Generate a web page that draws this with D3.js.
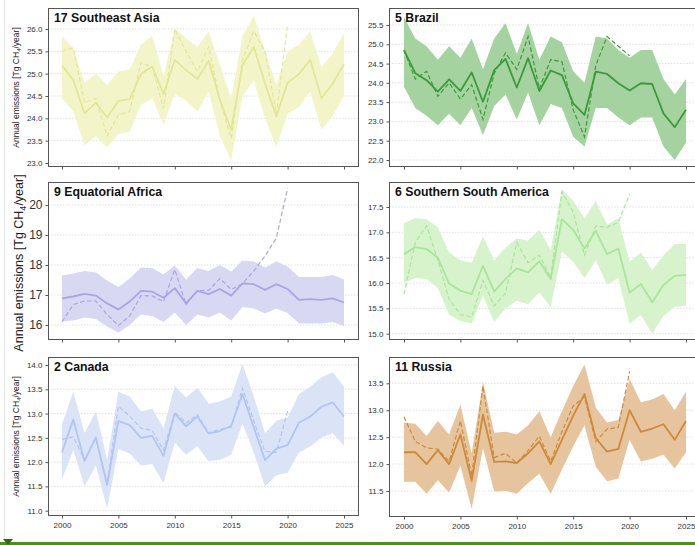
<!DOCTYPE html>
<html><head><meta charset="utf-8">
<script src="https://cdn.jsdelivr.net/npm/d3@7"></script>
<style>
html,body{margin:0;padding:0;background:#fff;}
svg{display:block;font-family:"Liberation Sans",Arial,sans-serif;}
</style></head><body>
<svg id="c" width="695" height="545"></svg>
<script>
const years = d3.range(2000, 2026);
const priorYears = d3.range(2000, 2021);
const xTicks = [2000, 2005, 2010, 2015, 2020, 2025];

// 17 Southeast Asia
const seaMean = [25.18,24.86,24.11,24.35,24.02,24.39,24.43,24.99,25.16,24.54,25.31,25.08,24.88,25.29,24.41,23.74,25.19,25.60,24.78,24.04,24.80,24.99,25.31,24.45,24.78,25.22];
const seaLow  = [24.45,24.15,23.40,23.60,23.35,23.65,23.70,24.30,24.45,23.85,24.55,24.40,24.15,24.60,23.60,23.05,24.50,24.85,24.00,23.35,24.10,24.25,24.60,23.75,24.05,24.50];
const seaHigh = [25.85,25.55,24.80,25.00,24.75,25.05,25.10,25.65,25.85,24.95,26.00,25.80,25.60,25.95,25.20,24.45,25.85,26.30,25.50,24.75,25.50,25.65,25.95,25.15,25.45,25.90];
const seaPrior= [25.50,25.58,24.35,24.45,23.60,24.08,24.15,25.25,25.15,24.22,26.00,25.50,25.05,25.60,24.40,23.55,25.30,25.95,25.50,24.10,26.10];
const seaTicks = [23.0,23.5,24.0,24.5,25.0,25.5,26.0];

// 5 Brazil
const braMean = [24.85,24.25,24.07,23.77,24.09,23.79,24.27,23.51,24.33,24.62,23.88,24.64,23.79,24.32,24.20,23.47,23.17,24.29,24.23,23.99,23.80,23.99,23.97,23.21,22.85,23.30];
const braLow  = [23.90,23.35,23.15,22.90,23.20,22.90,23.35,22.65,23.40,23.70,23.05,23.75,22.90,23.45,23.35,22.60,22.35,23.35,23.35,23.10,22.90,23.10,23.10,22.35,22.00,22.45];
const braHigh = [25.70,25.15,24.95,24.60,24.95,24.65,25.15,24.35,25.15,25.55,24.75,25.55,24.60,25.20,25.05,24.30,24.00,25.20,25.15,24.85,24.65,24.85,24.85,24.10,23.70,24.10];
const braPrior= [24.85,24.10,24.30,23.65,24.00,23.58,23.95,23.05,24.25,24.78,24.35,25.20,23.85,24.60,24.55,23.30,22.60,24.45,25.20,24.95,24.70];
const braTicks = [22.0,22.5,23.0,23.5,24.0,24.5,25.0,25.5];

// 9 Equatorial Africa
const eqaMean = [16.89,16.95,17.04,16.98,16.72,16.52,16.78,17.14,17.11,16.91,17.23,16.72,17.14,17.03,17.20,16.98,17.39,17.36,17.17,17.36,17.20,16.84,16.86,16.84,16.89,16.75];
const eqaLow  = [16.12,16.15,16.25,16.20,15.95,15.75,16.00,16.35,16.30,16.10,16.42,16.00,16.35,16.25,16.42,16.15,16.60,16.55,16.38,16.55,16.40,16.05,16.05,16.05,16.10,15.97];
const eqaHigh = [17.65,17.72,17.80,17.75,17.48,17.27,17.55,17.92,17.90,17.68,17.98,17.52,17.90,17.80,18.00,17.78,18.15,18.12,17.92,18.12,17.95,17.60,17.60,17.60,17.67,17.52];
const eqaPrior= [16.10,16.68,16.80,16.80,16.35,15.98,16.30,16.98,16.97,16.78,17.85,16.68,17.15,17.15,17.55,17.18,17.38,17.80,18.30,18.90,20.55];
const eqaTicks = [16,17,18,19,20];

// 6 Southern South America
const ssaMean = [16.57,16.71,16.67,16.50,15.99,15.85,15.78,16.34,15.83,16.08,16.29,16.21,16.43,16.08,17.26,17.05,16.68,17.03,16.57,16.68,15.81,15.98,15.62,15.96,16.14,16.16];
const ssaLow  = [16.00,16.10,16.08,15.90,15.38,15.25,15.20,15.75,15.23,15.50,15.65,15.58,15.82,15.52,16.62,16.42,16.10,16.45,15.97,16.10,15.20,15.37,15.00,15.35,15.53,15.55];
const ssaHigh = [17.18,17.28,17.26,17.10,16.60,16.45,16.40,16.92,16.45,16.70,16.88,16.84,17.05,16.65,17.85,17.62,17.28,17.62,17.15,17.28,16.42,16.60,16.25,16.55,16.77,16.77];
const ssaPrior= [15.78,16.80,17.13,16.45,15.68,15.38,15.33,16.05,15.55,15.80,16.80,16.40,16.55,16.10,17.80,17.40,16.55,17.12,17.10,17.20,17.75];
const ssaTicks = [15.0,15.5,16.0,16.5,17.0,17.5];

// 2 Canada
const canMean = [12.20,12.88,12.02,12.51,11.53,12.85,12.76,12.50,12.54,12.13,13.00,12.74,12.94,12.59,12.64,12.75,13.40,12.72,12.04,12.28,12.35,12.81,12.94,13.14,13.23,12.94];
const canLow  = [11.65,12.25,11.50,11.93,11.05,12.27,12.18,11.93,11.96,11.57,12.40,12.15,12.33,12.02,12.05,12.15,12.80,12.20,11.50,11.73,11.78,12.20,12.32,12.50,12.60,12.33];
const canHigh = [12.78,13.45,12.60,13.05,12.05,13.45,13.35,13.05,13.10,12.70,13.57,13.33,13.53,13.20,13.25,13.35,14.02,13.35,12.60,12.85,12.92,13.40,13.55,13.75,13.85,13.55];
const canPrior= [12.47,12.52,12.05,12.50,11.55,13.15,12.95,12.70,12.65,12.25,13.03,12.80,12.98,12.60,12.68,12.72,13.52,12.85,12.22,12.20,13.05];
const canTicks = [11.0,11.5,12.0,12.5,13.0,13.5,14.0];

// 11 Russia
const rusMean = [12.22,12.22,12.00,12.26,12.00,12.55,11.69,12.92,12.04,12.05,12.02,12.20,12.42,12.00,12.45,12.90,13.30,12.48,12.23,12.28,13.00,12.60,12.66,12.74,12.45,12.80];
const rusLow  = [11.67,11.67,11.45,11.70,11.47,11.97,11.17,12.30,11.49,11.50,11.45,11.65,11.82,11.45,11.90,12.33,12.72,11.95,11.68,11.73,12.45,12.05,12.10,12.18,11.92,12.22];
const rusHigh = [12.77,12.75,12.52,12.80,12.55,13.10,12.20,13.52,12.58,12.60,12.55,12.72,12.98,12.50,12.98,13.45,13.85,13.05,12.77,12.82,13.58,13.15,13.20,13.30,13.00,13.35];
const rusPrior= [12.88,12.42,12.30,12.28,12.05,12.80,11.78,13.45,12.12,12.20,12.02,12.25,12.52,12.05,12.60,13.08,13.25,12.42,12.65,12.68,13.72];
const rusTicks = [11.5,12.0,12.5,13.0,13.5];

const panels = [
  {title:"17 Southeast Asia", mean:seaMean, low:seaLow, high:seaHigh, prior:seaPrior, ticks:seaTicks, fmt:".1f",
   box:[48,8,359,167], xr:[62,344], ymap:[23.0,163,26.0,29], band:"#f3f5c9", line:"#e3e697", ylabel:"small", xlabels:false},
  {title:"5 Brazil", mean:braMean, low:braLow, high:braHigh, prior:braPrior, ticks:braTicks, fmt:".1f",
   box:[389,8,700,167], xr:[404,686], ymap:[22.0,160,25.5,25], band:"#a4d3a0", line:"#3b9b3b", ylabel:null, xlabels:false},
  {title:"9 Equatorial Africa", mean:eqaMean, low:eqaLow, high:eqaHigh, prior:eqaPrior, ticks:eqaTicks, fmt:"d",
   box:[48,182,359,340], xr:[62,344], ymap:[16,325,20,205], band:"#d9d8f3", line:"#aaa5e2", ylabel:"big", xlabels:false},
  {title:"6 Southern South America", mean:ssaMean, low:ssaLow, high:ssaHigh, prior:ssaPrior, ticks:ssaTicks, fmt:".1f",
   box:[389,182,700,340], xr:[404,686], ymap:[15.0,333.7,17.5,207], band:"#d6f3cb", line:"#a9e59a", ylabel:null, xlabels:false},
  {title:"2 Canada", mean:canMean, low:canLow, high:canHigh, prior:canPrior, ticks:canTicks, fmt:".1f",
   box:[48,357,359,516], xr:[62,344], ymap:[11.0,510.7,14.0,365], band:"#dbe3f7", line:"#b3c5ee", ylabel:"small", xlabels:true},
  {title:"11 Russia", mean:rusMean, low:rusLow, high:rusHigh, prior:rusPrior, ticks:rusTicks, fmt:".1f",
   box:[389,357,700,517], xr:[404,686], ymap:[11.5,491,13.5,383.3], band:"#e6c49d", line:"#cd8a3b", ylabel:null, xlabels:true}
];

const svg = d3.select("#c");
const defs = svg.append("defs");

// faint left edge line (screenshot frame)
svg.append("line").attr("x1",4.5).attr("x2",4.5).attr("y1",0).attr("y2",540).attr("stroke","#e4e4e4").attr("stroke-width",1);

panels.forEach((p, i) => {
  const [x0,y0,x1,y1] = p.box;
  const x = d3.scaleLinear().domain([2000,2025]).range(p.xr);
  const y = d3.scaleLinear().domain([p.ymap[0], p.ymap[2]]).range([p.ymap[1], p.ymap[3]]);
  const g = svg.append("g");
  const cid = "clip"+i;
  defs.append("clipPath").attr("id",cid).append("rect").attr("x",x0).attr("y",y0).attr("width",x1-x0).attr("height",y1-y0);

  // grid
  g.append("g").selectAll("line").data(p.ticks).join("line")
    .attr("x1",x0).attr("x2",x1).attr("y1",d=>y(d)).attr("y2",d=>y(d))
    .attr("stroke","#d8d8d8").attr("stroke-width",0.8).attr("stroke-dasharray","1.5,1.5");

  const plot = g.append("g").attr("clip-path",`url(#${cid})`);
  const area = d3.area().x((d,j)=>x(years[j])).y0((d,j)=>y(p.low[j])).y1((d,j)=>y(p.high[j]));
  plot.append("path").datum(p.mean).attr("d",area).attr("fill",p.band).attr("stroke","none");
  const line = d3.line().x((d,j)=>x(years[j])).y(d=>y(d));
  const lineP = d3.line().x((d,j)=>x(priorYears[j])).y(d=>y(d));
  plot.append("path").datum(p.prior).attr("d",lineP).attr("fill","none").attr("stroke",p.line)
    .attr("stroke-width",1.2).attr("stroke-dasharray","4.5,2.5");
  plot.append("path").datum(p.mean).attr("d",line).attr("fill","none").attr("stroke",p.line)
    .attr("stroke-width",1.8).attr("stroke-linejoin","round");

  // box
  g.append("rect").attr("x",x0+0.5).attr("y",y0+0.5).attr("width",x1-x0-1).attr("height",y1-y0-1)
    .attr("fill","none").attr("stroke","#555").attr("stroke-width",1);

  // y axis
  const yAxis = d3.axisLeft(y).tickValues(p.ticks).tickSize(3).tickPadding(3).tickFormat(d3.format(p.fmt));
  const ya = g.append("g").attr("transform",`translate(${x0+0.5},0)`).call(yAxis);
  ya.select(".domain").remove();
  ya.selectAll(".tick line").attr("stroke","#555");
  ya.selectAll(".tick text").attr("fill","#333").style("font-size", p.ylabel==="big" ? "12px" : "8px")
    .style("font-family","'Liberation Sans',Arial,sans-serif");

  // x axis
  const xAxis = d3.axisBottom(x).tickValues(xTicks).tickSize(3).tickPadding(4)
    .tickFormat(p.xlabels ? d3.format("d") : () => "");
  const xa = g.append("g").attr("transform",`translate(0,${y1-0.5})`).call(xAxis);
  xa.select(".domain").remove();
  xa.selectAll(".tick line").attr("stroke","#555");
  xa.selectAll(".tick text").attr("fill","#333").style("font-size","8px")
    .style("font-family","'Liberation Sans',Arial,sans-serif");

  // title
  g.append("text").attr("x",x0+6).attr("y",y0+14).text(p.title)
    .attr("font-weight","bold").attr("font-size","12.3px").attr("fill","#111");

  // y label
  if (p.ylabel) {
    const big = p.ylabel === "big";
    const cy = (y0+y1)/2 + (big ? 2 : 0);
    const t = g.append("text").attr("transform",`translate(${big?23:19},${cy}) rotate(-90)`)
      .attr("text-anchor","middle").attr("fill","#222").attr("font-size", big ? "12.5px" : "8.5px");
    t.append("tspan").text("Annual emissions [Tg CH");
    t.append("tspan").text("4").attr("font-size", big ? "9px" : "6px").attr("dy", big ? 3 : 2);
    t.append("tspan").text("/year]").attr("dy", big ? -3 : -2);
  }
});

// bottom green bar
svg.append("rect").attr("x",0).attr("y",542).attr("width",695).attr("height",3).attr("fill","#4f8f1c");
svg.append("path").attr("d","M3,539 L13,539 L8,545 Z").attr("fill","#2f6a12");
</script>
</body></html>
